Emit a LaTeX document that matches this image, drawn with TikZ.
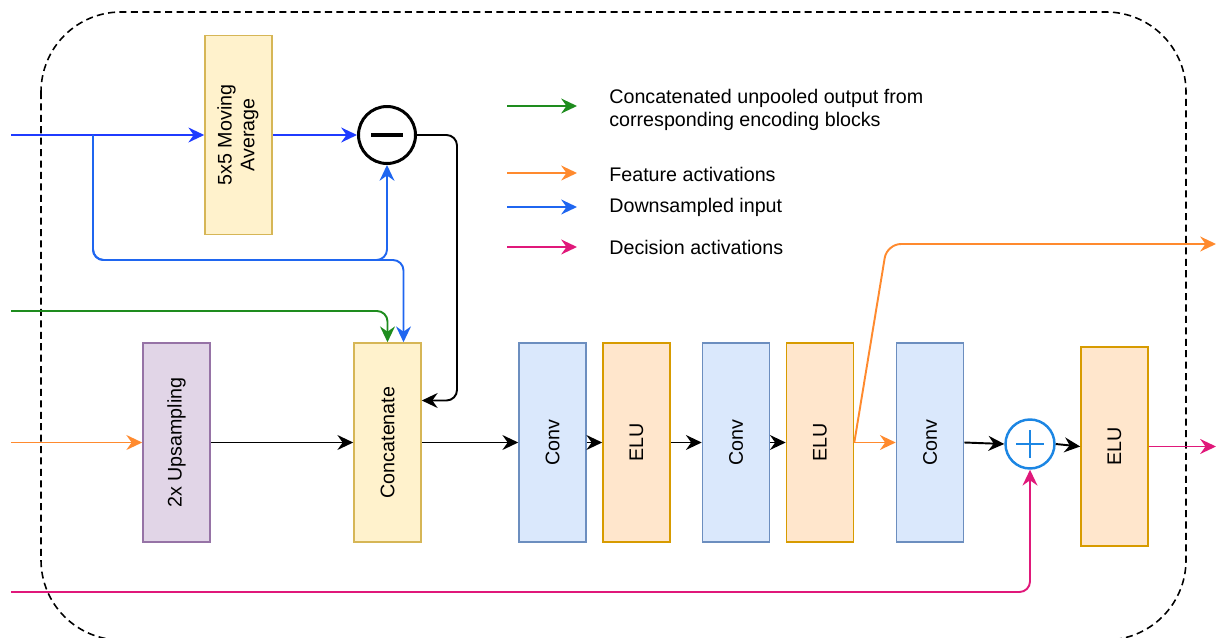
\documentclass[tikz,border=0pt]{standalone}
\usepackage{fontspec}
\setmainfont{Liberation Sans}
\usetikzlibrary{arrows.meta,calc}

\definecolor{inblue}{HTML}{1F3BFF}
\definecolor{dsblue}{HTML}{1F66F0}
\definecolor{catgreen}{HTML}{1E8C1E}
\definecolor{featorange}{HTML}{FF8A2E}
\definecolor{decpink}{HTML}{E0187A}
\definecolor{convfill}{HTML}{DAE8FC}
\definecolor{convdraw}{HTML}{6C8EBF}
\definecolor{elufill}{HTML}{FFE6CC}
\definecolor{eludraw}{HTML}{D79B00}
\definecolor{catfill}{HTML}{FFF2CC}
\definecolor{catdraw}{HTML}{D6B656}
\definecolor{upfill}{HTML}{E1D5E7}
\definecolor{updraw}{HTML}{9673A6}
\definecolor{addblue}{HTML}{1C86E3}

\begin{document}
\begin{tikzpicture}[x=0.02cm, y=-0.02cm,
  >={Stealth[length=9pt,width=8.5pt,inset=3pt]},
  every node/.style={font=\fontsize{11.2}{13}\selectfont},
  block/.style={draw, line width=0.9pt, minimum width=1.34cm, minimum height=3.98cm, inner sep=0pt},
  convblock/.style={block, fill=convfill, draw=convdraw},
  elublock/.style={block, fill=elufill, draw=eludraw},
  catblock/.style={block, fill=catfill, draw=catdraw},
  upblock/.style={block, fill=upfill, draw=updraw},
  link/.style={line width=1.1pt, ->},
  legtext/.style={anchor=west, inner sep=0pt, align=left}]

\useasboundingbox (0,0) rectangle (1216,638);

%%%% dashed frame
\draw[line width=0.9pt, dash pattern=on 4pt off 2.5pt, rounded corners=1.6cm] (41,12) rectangle (1186,640);

%%%% blocks
\node[catblock] (avg) at (238.5,135) {\rotatebox{90}{\begin{tabular}{@{}c@{}}5x5 Moving\\Average\end{tabular}}};
\node[upblock] (up) at (176.5,442.5) {\rotatebox{90}{2x Upsampling}};
\node[catblock] (cat) at (387.5,442.5) {\rotatebox{90}{Concatenate}};
\node[convblock] (conv1) at (552.5,442.5) {\rotatebox{90}{Conv}};
\node[elublock] (elu1) at (636.5,442.5) {\rotatebox{90}{ELU}};
\node[convblock] (conv2) at (736,442.5) {\rotatebox{90}{Conv}};
\node[elublock] (elu2) at (820,442.5) {\rotatebox{90}{ELU}};
\node[convblock] (conv3) at (930,442.5) {\rotatebox{90}{Conv}};
\node[elublock] (elu3) at (1114.5,446.5) {\rotatebox{90}{ELU}};

%%%% minus and plus
\node[circle, draw, line width=1.7pt, minimum size=1.14cm, inner sep=0pt] (minus) at (387,135) {};
\draw[line width=2.2pt] ($(minus.center)+(-16,0)$) -- ($(minus.center)+(16,0)$);
\node[circle, draw=addblue, line width=1.4pt, minimum size=0.98cm, inner sep=0pt] (plus) at (1030,444) {};
\draw[addblue, line width=1.4pt] ($(plus.center)+(-14,0)$) -- ($(plus.center)+(14,0)$)
                                 ($(plus.center)+(0,-14)$) -- ($(plus.center)+(0,14)$);

%%%% entry / exit points
\coordinate (bin) at (11,135);
\coordinate (gin) at (11,311);
\coordinate (oin) at (11,442.5);
\coordinate (pin) at (11,592);
\coordinate (split) at (93,135);
\coordinate (low) at (93,260);
\coordinate (oout) at (1216,244);
\coordinate (pout) at (1216,446.5);

%%%% downsampled input
\draw[link, inblue] (bin) -- (avg.west);
\draw[link, inblue] (avg.east) -- (minus.west);
\draw[link, dsblue, rounded corners=6pt] (split) -- (low) -| (minus.south);
\draw[link, dsblue, rounded corners=6pt] (split) -- (low) -| ($(cat.north)+(16,0)$);
\draw[link, rounded corners=6pt] (minus.east) -- (457,135) |- ($(cat.east)+(0,-42)$);

%%%% encoder skip
\draw[link, catgreen, rounded corners=6pt] (gin) -| (cat.north);

%%%% main chain
\draw[link, featorange] (oin) -- (up.west);
\draw[link] (up.east) -- (cat.west);
\draw[link] (cat.east) -- (conv1.west);
\draw[link] (conv1.east) -- (elu1.west);
\draw[link] (elu1.east) -- (conv2.west);
\draw[link] (conv2.east) -- (elu2.west);
\draw[link, featorange] (elu2.east) -- (conv3.west);
\draw[link, featorange, rounded corners=8pt] (elu2.east) -- (887,244) -- (oout);
\draw[link] (conv3.east) -- (plus.west);
\draw[link] (plus.east) -- (elu3.west);
\draw[link, decpink] (elu3.east) -- (pout);
\draw[link, decpink, rounded corners=6pt] (pin) -| (plus.south);

%%%% legend
\coordinate (lg1a) at (507,106); \coordinate (lg1b) at (577,106);
\coordinate (lg2a) at (507,173); \coordinate (lg2b) at (577,173);
\coordinate (lg3a) at (507,207); \coordinate (lg3b) at (577,207);
\coordinate (lg4a) at (507,247); \coordinate (lg4b) at (577,247);
\draw[link, catgreen] (lg1a) -- (lg1b);
\draw[link, featorange] (lg2a) -- (lg2b);
\draw[link, dsblue] (lg3a) -- (lg3b);
\draw[link, decpink] (lg4a) -- (lg4b);
\node[legtext] (lt1) at (609,110) {Concatenated unpooled output from\\corresponding encoding blocks};
\node[legtext] (lt2) at (609,174) {Feature activations};
\node[legtext] (lt3) at (609,207) {Downsampled input};
\node[legtext] (lt4) at (609,247) {Decision activations};

\end{tikzpicture}
\end{document}
